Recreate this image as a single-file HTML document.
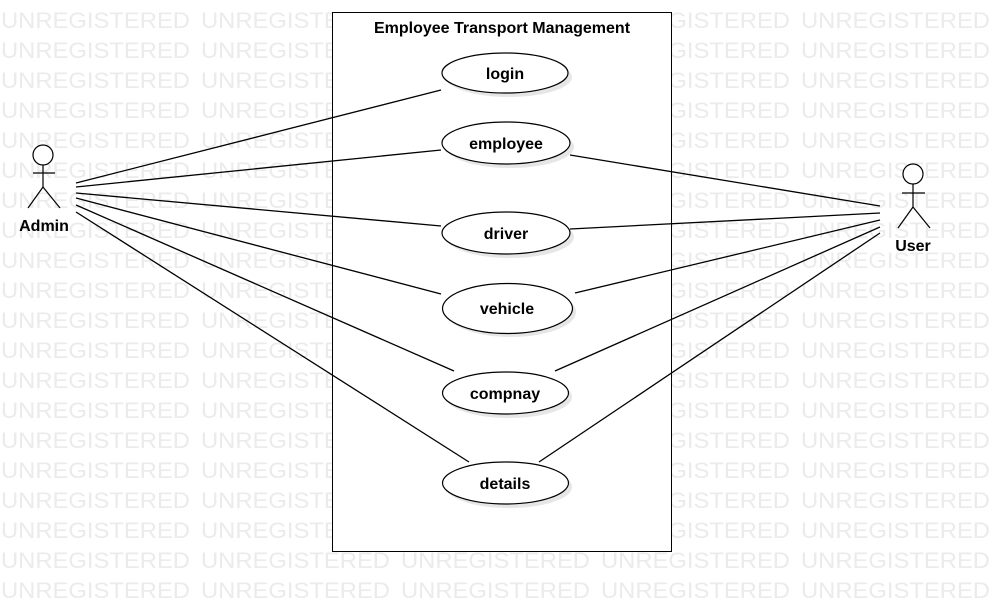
<!DOCTYPE html>
<html><head><meta charset="utf-8"><style>
html,body{margin:0;padding:0;background:#fff;}
svg{display:block;}
</style></head><body>
<svg width="995" height="602" xmlns="http://www.w3.org/2000/svg" font-family="Liberation Sans, Arial, sans-serif">
<defs>
<pattern id="wm" x="0" y="0" width="200" height="30" patternUnits="userSpaceOnUse">
<text x="1" y="28" font-size="22.5" fill="#ebebeb" textLength="189" lengthAdjust="spacingAndGlyphs">UNREGISTERED</text>
</pattern>
</defs>
<rect x="0" y="0" width="995" height="602" fill="url(#wm)"/>
<rect x="332.5" y="12.5" width="339" height="539" fill="#fff" stroke="#000" stroke-width="1"/>
<text x="502" y="33" text-anchor="middle" font-size="16" font-weight="bold">Employee Transport Management</text>
<g stroke="#000" stroke-width="1.3" fill="none">
<line x1="76" y1="183" x2="441" y2="90"/>
<line x1="76" y1="187" x2="441" y2="150"/>
<line x1="76" y1="193" x2="441" y2="226"/>
<line x1="76" y1="198" x2="441" y2="294"/>
<line x1="76" y1="205" x2="454" y2="371"/>
<line x1="76" y1="212" x2="469" y2="462"/>
<line x1="570" y1="155" x2="880" y2="206"/>
<line x1="570" y1="229" x2="880" y2="213"/>
<line x1="575" y1="293" x2="880" y2="220"/>
<line x1="555" y1="371" x2="880" y2="227"/>
<line x1="539" y1="462" x2="880" y2="233"/>
</g>
<g fill="#e6e6e6">
<ellipse cx="509" cy="77" rx="63" ry="20"/>
<ellipse cx="510" cy="147" rx="64" ry="21"/>
<ellipse cx="510" cy="237" rx="64" ry="21"/>
<ellipse cx="511" cy="312" rx="65" ry="25"/>
<ellipse cx="509" cy="397" rx="63" ry="21"/>
<ellipse cx="509" cy="487" rx="63" ry="21"/>
</g>
<g fill="#fff" stroke="#000" stroke-width="1.2">
<ellipse cx="505" cy="73" rx="63" ry="20"/>
<ellipse cx="506" cy="143" rx="64" ry="21"/>
<ellipse cx="506" cy="233" rx="64" ry="21"/>
<ellipse cx="507.5" cy="308.5" rx="65" ry="25"/>
<ellipse cx="505.5" cy="393" rx="63" ry="21"/>
<ellipse cx="505.5" cy="483" rx="63" ry="21"/>
</g>
<g font-size="16" font-weight="bold" text-anchor="middle">
<text x="505" y="79">login</text>
<text x="506" y="149">employee</text>
<text x="506" y="239">driver</text>
<text x="507" y="314">vehicle</text>
<text x="505" y="399">compnay</text>
<text x="505" y="489">details</text>
</g>
<g stroke="#000" stroke-width="1.2" fill="#fff">
<circle cx="43" cy="155" r="10"/>
<line x1="43" y1="165" x2="43" y2="187"/>
<line x1="33" y1="173" x2="55" y2="173"/>
<line x1="43" y1="187" x2="28" y2="208"/>
<line x1="43" y1="187" x2="60" y2="208"/>
<circle cx="913" cy="174" r="10"/>
<line x1="913" y1="184" x2="913" y2="207"/>
<line x1="902" y1="193" x2="925" y2="193"/>
<line x1="913" y1="207" x2="898" y2="228"/>
<line x1="913" y1="207" x2="930" y2="228"/>
</g>
<text x="44" y="231" font-size="16" font-weight="bold" text-anchor="middle">Admin</text>
<text x="913" y="251" font-size="16" font-weight="bold" text-anchor="middle">User</text>
</svg>
</body></html>
